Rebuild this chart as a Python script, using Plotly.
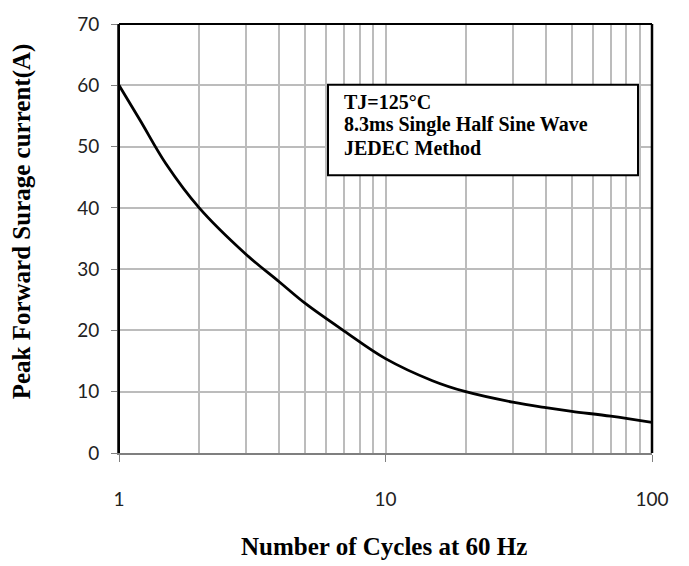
import plotly.graph_objects as go

# Data
cycles = [1, 1.2, 1.5, 2, 3, 4, 5, 7, 10, 15, 20, 30, 40, 50, 70, 100]
surge_current = [60, 54.3, 47.2, 40, 32.4, 27.9, 24.4, 19.9, 15.4, 11.8, 10.0,
                 8.3, 7.4, 6.8, 6.0, 5.0]

x_major_ticks = [1, 10, 100]
x_major_labels = ["1", "10", "100"]
x_minor_ticks = [2, 3, 4, 5, 6, 7, 8, 9, 20, 30, 40, 50, 60, 70, 80, 90]
y_ticks = [0, 10, 20, 30, 40, 50, 60, 70]

note_lines = ["TJ=125°C", "8.3ms Single Half Sine Wave", "JEDEC Method"]
x_title = "Number of Cycles at 60 Hz"
y_title = "Peak Forward Surage current(A)"

SERIF = "Liberation Serif, Times New Roman, serif"
SANS = "Lato, Open Sans, sans-serif"
GRID = "#bcbcbc"

fig = go.Figure()
fig.add_trace(go.Scatter(
    x=cycles, y=surge_current, mode="lines",
    line=dict(color="black", width=2.8, shape="spline", smoothing=1.0),
    showlegend=False, hoverinfo="skip",
))

W, H = 689, 566
L, R, T, B = 119, 37, 16, 113
pw, ph = W - L - R, H - T - B

def px_x(p):
    return (p - L) / pw

def px_y(p):
    return (H - B - p) / ph

fig.update_layout(
    width=W, height=H,
    margin=dict(l=L, r=R, t=T, b=B),
    paper_bgcolor="white", plot_bgcolor="white",
    xaxis=dict(
        type="log", range=[0, 2],
        tickvals=x_major_ticks, ticktext=x_major_labels,
        showgrid=True, gridcolor=GRID, gridwidth=1.5,
        minor=dict(tickvals=x_minor_ticks, showgrid=True, gridcolor=GRID,
                   gridwidth=1.5, ticks=""),
        ticks="outside", ticklen=7, tickcolor="#808080", tickwidth=1,
        showline=True, linecolor="#7f7f7f", linewidth=2,
        ticklabelstandoff=21,
        tickfont=dict(family=SANS, size=19, color="#222"),
        zeroline=False,
    ),
    yaxis=dict(
        range=[0, 70], tickvals=y_ticks,
        showgrid=True, gridcolor=GRID, gridwidth=1.5,
        ticks="outside", ticklen=6, tickcolor="#808080", tickwidth=1,
        showline=True, linecolor="#404040", linewidth=2,
        ticklabelstandoff=8,
        tickfont=dict(family=SANS, size=19, color="#222"),
        zeroline=False,
    ),
)

# Plot frame: top, right, left in black
fig.add_shape(type="line", xref="paper", yref="paper", x0=0, x1=1, y0=1, y1=1,
              line=dict(color="black", width=2))
fig.add_shape(type="line", xref="paper", yref="paper", x0=1, x1=1, y0=0, y1=1,
              line=dict(color="black", width=2.5))
fig.add_shape(type="line", xref="paper", yref="paper", x0=0, x1=0, y0=0, y1=1,
              line=dict(color="black", width=2))

# Note box
fig.add_shape(type="rect", xref="paper", yref="paper",
              x0=px_x(328), x1=px_x(638), y0=px_y(170), y1=px_y(78),
              line=dict(color="black", width=2), fillcolor="white", layer="above")
for i, txt in enumerate(note_lines):
    fig.add_annotation(
        xref="paper", yref="paper", x=px_x(342), y=px_y(95 + i * 23.5),
        xanchor="left", yanchor="middle", showarrow=False, align="left",
        text="<b>" + txt + "</b>",
        font=dict(family=SERIF, size=20, color="black"),
    )

# Axis titles
fig.add_annotation(
    xref="paper", yref="paper", x=px_x(384), y=px_y(548),
    xanchor="center", yanchor="middle", showarrow=False,
    text="<b>" + x_title + "</b>",
    font=dict(family=SERIF, size=25, color="black"),
)
fig.add_annotation(
    xref="paper", yref="paper", x=px_x(22), y=px_y(217),
    xanchor="center", yanchor="middle", showarrow=False, textangle=-90,
    text="<b>" + y_title + "</b>",
    font=dict(family=SERIF, size=25, color="black"),
)

fig.write_html("out.html",
               config={"displayModeBar": False},
               post_script="document.body.style.margin='0px';")
